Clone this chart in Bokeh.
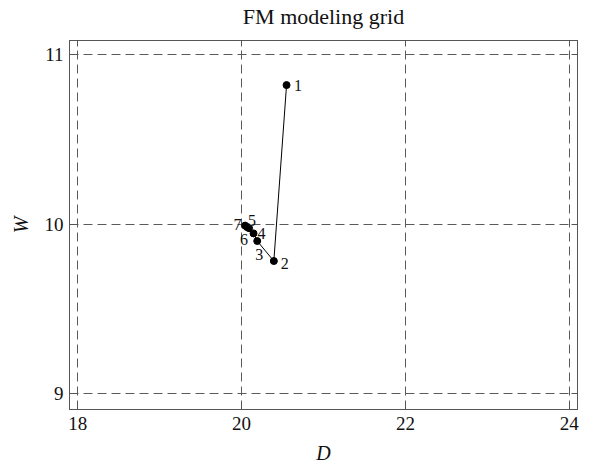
from bokeh.plotting import figure
from bokeh.models import ColumnDataSource, FixedTicker, LinearAxis, CustomJSTickFormatter, Range1d
from bokeh.core.properties import value
from bokeh.embed import file_html
from bokeh.resources import INLINE

# data
title_text = "FM modeling grid"
step_labels = ["1", "2", "3", "4", "5", "6", "7"]
D_values = [20.549, 20.394, 20.191, 20.146, 20.091, 20.067, 20.043]
W_values = [10.820, 9.782, 9.900, 9.945, 9.976, 9.982, 9.991]
x_ticks = [18, 20, 22, 24]
y_ticks = [9, 10, 11]

# label offsets (screen px) - style only
label_dx = [11.5, 11, 2, 8, 3, -3, -7.5]
label_dy = [0, 2, 13.5, 0, -7.5, 12, -1.5]

SERIF = "Liberation Serif"
FRAME = "#555555"
X0, X1, Y0, Y1 = 17.9, 24.1, 8.906, 11.083

p = figure(width=590, height=466, output_backend="svg", toolbar_location=None,
           x_range=Range1d(X0, X1), y_range=Range1d(Y0, Y1),
           min_border_left=69, min_border_right=13, min_border_top=40, min_border_bottom=57,
           x_axis_label="D", y_axis_label="W")

p.background_fill_color = "white"
p.border_fill_color = "white"
p.outline_line_color = FRAME
p.outline_line_width = 1

xt = FixedTicker(ticks=x_ticks)
yt = FixedTicker(ticks=y_ticks)

for ax, tk in ((p.xaxis[0], xt), (p.yaxis[0], yt)):
    ax.ticker = tk
    ax.axis_line_color = FRAME
    ax.major_tick_line_color = FRAME
    ax.major_tick_in = 6
    ax.major_tick_out = 0
    ax.minor_tick_line_color = None
    ax.major_label_text_font = SERIF
    ax.major_label_text_font_size = "19px"
    ax.major_label_text_color = "#111111"
    ax.axis_label_text_font = SERIF
    ax.axis_label_text_font_size = "20px"
    ax.axis_label_text_font_style = "italic"
    ax.axis_label_text_color = "#111111"

p.xaxis[0].major_label_standoff = 7
p.xaxis[0].axis_label_standoff = 9
p.yaxis[0].major_label_standoff = 6
p.yaxis[0].axis_label_standoff = 10

blank = CustomJSTickFormatter(code="return ''")
# top axis carries the chart title as its axis label
top = LinearAxis(ticker=FixedTicker(ticks=x_ticks), formatter=blank, axis_label=title_text)
right = LinearAxis(ticker=FixedTicker(ticks=y_ticks), formatter=blank)
for ax in (top, right):
    ax.axis_line_color = FRAME
    ax.major_tick_line_color = FRAME
    ax.major_tick_in = 6
    ax.major_tick_out = 0
    ax.minor_tick_line_color = None
    ax.major_label_standoff = 0
top.axis_label_text_font = SERIF
top.axis_label_text_font_size = "22px"
top.axis_label_text_font_style = "normal"
top.axis_label_text_color = "#111111"
top.axis_label_standoff = 12
p.add_layout(top, "above")
p.add_layout(right, "right")

p.xgrid.ticker = xt
p.ygrid.ticker = yt
for g in (p.xgrid, p.ygrid):
    g.grid_line_color = "#5a5a5a"
    g.grid_line_dash = "9 5"
    g.grid_line_width = 1

src = ColumnDataSource(dict(x=D_values, y=W_values, t=step_labels, dx=label_dx, dy=label_dy))
p.line("x", "y", source=src, line_color="black", line_width=1)
p.scatter("x", "y", source=src, size=7, fill_color="black", line_color="black")
p.text("x", "y", text="t", source=src, x_offset="dx", y_offset="dy",
       text_align="center", text_baseline="middle", text_font=value(SERIF),
       text_font_size="16px", text_color="#111111")

open("out.html", "w").write(file_html(p, INLINE))
